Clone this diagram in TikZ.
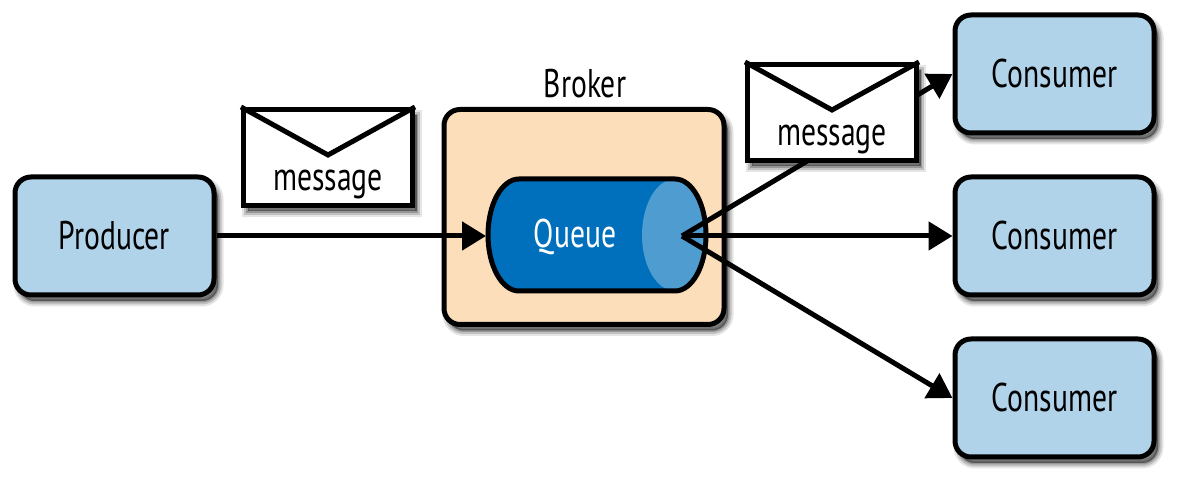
\documentclass[tikz,border=0pt]{standalone}
\usepackage{fontspec}
\setmainfont[FakeStretch=0.74]{PT Sans}
\usetikzlibrary{arrows.meta}
\definecolor{boxblue}{HTML}{B0D3EA}
\definecolor{brokertan}{HTML}{FDDEBB}
\definecolor{queueblue}{HTML}{0070BC}
\definecolor{capblue}{HTML}{4F9CD0}
\tikzset{
	softshadow/.style={
		preaction={draw=black,fill=black,opacity=.10,line width=11pt,rounded corners=#1,transform canvas={shift={(4pt,-6pt)}}},
		preaction={draw=black,fill=black,opacity=.16,line width=7pt,rounded corners=#1,transform canvas={shift={(4pt,-6pt)}}},
		preaction={draw=black,fill=black,opacity=.22,line width=3pt,rounded corners=#1,transform canvas={shift={(4pt,-6pt)}}}},
	appbox/.style={draw=black,line width=5pt,fill=boxblue,rounded corners=16pt,softshadow=16pt,minimum width=199pt,minimum height=118pt,font=\fontsize{40}{44}\selectfont},
	brokerbox/.style={draw=black,line width=5pt,fill=brokertan,rounded corners=16pt,softshadow=16pt,minimum width=280pt,minimum height=215pt},
	envelope/.style={draw=black,line width=5pt,fill=white,softshadow=0pt,minimum width=169pt,minimum height=96pt},
	caption/.style={inner sep=0pt,font=\fontsize{40}{44}\selectfont},
	flow/.style={draw=black,line width=5pt,-{Triangle[length=24pt,width=28pt]}}
}
\begin{document}
\begin{tikzpicture}[x=1pt,y=1pt]
	\useasboundingbox (0,0) rectangle (1182,486);
	\node [appbox] (producer) at (114.5,250) {Producer};
	\node [appbox] (consumerA) at (1054.5,412) {Consumer};
	\node [appbox] (consumerB) at (1054.5,250) {Consumer};
	\node [appbox] (consumerC) at (1054.5,88) {Consumer};
	\node [brokerbox] (broker) at (584,269) {};
	\node [caption] (brokerlabel) at (585,402) {Broker};
	\fill [queueblue] (519,307) -- (675,307) arc [start angle=90,end angle=-90,x radius=31,y radius=56] -- (519,195) arc [start angle=270,end angle=90,x radius=31,y radius=56] -- cycle;
	\fill [capblue] (675,307) arc [start angle=90,end angle=270,x radius=33,y radius=56] arc [start angle=-90,end angle=90,x radius=31,y radius=56] -- cycle;
	\draw [black,line width=5pt] (519,307) -- (675,307) arc [start angle=90,end angle=-90,x radius=31,y radius=56] -- (519,195) arc [start angle=270,end angle=90,x radius=31,y radius=56] -- cycle;
	\node [caption,text=white] (queue) at (575,249) {Queue};
	\coordinate (queuein) at (486,250);
	\coordinate (queueout) at (682,250);
	\draw [flow] (producer) -- (queuein);
	\draw [flow] (queueout) -- (consumerA.west);
	\draw [flow] (queueout) -- (consumerB.west);
	\draw [flow] (queueout) -- (consumerC.west);
	\node [envelope] (msgA) at (328,328.5) {};
	\draw [black,line width=5pt] (msgA.north west) -- (328,331) -- (msgA.north east);
	\node [caption] (msgAtext) at (328,301) {message};
	\node [envelope] (msgB) at (832,373.5) {};
	\draw [black,line width=5pt] (msgB.north west) -- (832,376) -- (msgB.north east);
	\node [caption] (msgBtext) at (832,346) {message};
\end{tikzpicture}
\end{document}
